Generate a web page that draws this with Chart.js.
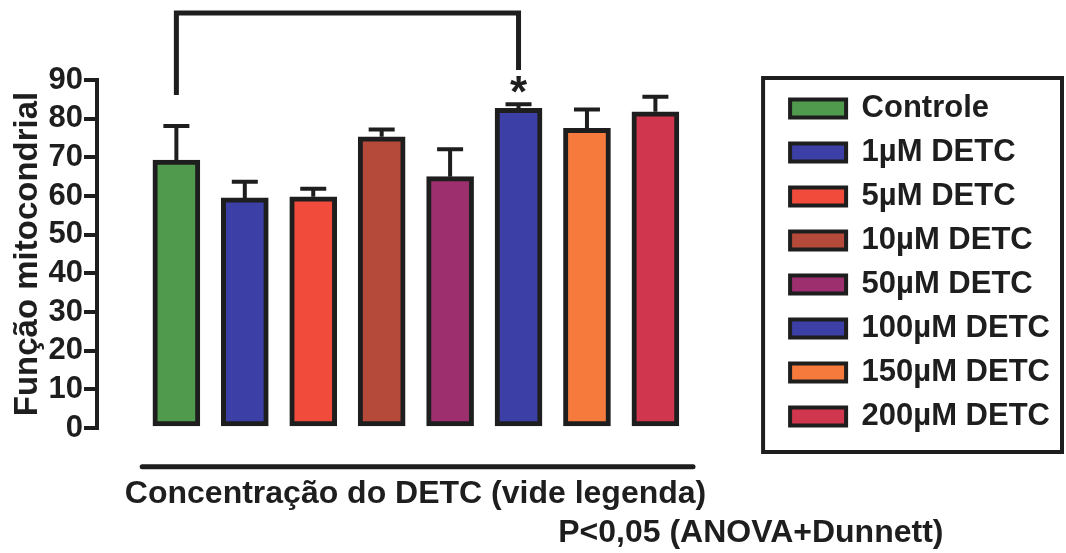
<!DOCTYPE html>
<html>
<head>
<meta charset="utf-8">
<script src="https://cdn.jsdelivr.net/npm/chart.js@4.4.1/dist/chart.umd.min.js"></script>
<style>
  html, body { margin:0; padding:0; background:#fff; }
  #wrap { width:1066px; height:553px; }
</style>
</head>
<body>
<div id="wrap"><canvas id="c" width="1066" height="553"></canvas></div>
<script>
// ---------- DADOS ----------
const groups = ["Controle","1µM DETC","5µM DETC","10µM DETC","50µM DETC","100µM DETC","150µM DETC","200µM DETC"];
const means  = [69.3, 59.5, 59.8, 75.3, 65.0, 82.7, 77.5, 81.8];
const errUp  = [8.8, 4.2, 2.1, 1.9, 7.1, 1.0, 4.9, 3.9];
const colors = ["#4f9a4c","#3b3fa6","#f04b3b","#b5493a","#9e2f6e","#3b3fa6","#f57a3c","#d0364e"];
const yTicks = [0,10,20,30,40,50,60,70,80,90];

// comparação significativa: Controle x 100µM
const sigPair   = [0, 5];
const sigLevels = [86.1, 107.3, 92.6];   // perna esq., topo, perna dir.
const sigStarAt = 83.0;
const yTitle = "Função mitocondrial";
const xTitle = "Concentração do DETC (vide legenda)";
const note   = "P<0,05 (ANOVA+Dunnett)";

// ---------- ESTILO ----------
const INK = "#1e1e1e";
const FONT = "'Liberation Sans', Arial, sans-serif";
Chart.defaults.font.family = FONT;
Chart.defaults.color = INK;

// barras de erro, chave de significância, linha-base, nota e caixa da legenda
const extras = {
  id: "extras",
  afterDraw(chart){
    const { ctx, scales:{ x, y } } = chart;
    ctx.save();
    ctx.strokeStyle = INK;
    ctx.fillStyle = INK;

    // erro (só para cima)
    ctx.lineWidth = 4;
    means.forEach((m, i) => {
      const px = x.getPixelForValue(i);
      const y0 = y.getPixelForValue(m);
      const y1 = y.getPixelForValue(m + errUp[i]);
      ctx.beginPath();
      ctx.moveTo(px, y0); ctx.lineTo(px, y1);
      ctx.moveTo(px - 13, y1); ctx.lineTo(px + 13, y1);
      ctx.stroke();
    });

    // chave
    const xa = x.getPixelForValue(sigPair[0]), xb = x.getPixelForValue(sigPair[1]);
    ctx.lineWidth = 5;
    ctx.lineJoin = "miter";
    ctx.beginPath();
    ctx.moveTo(xa, y.getPixelForValue(sigLevels[0]));
    ctx.lineTo(xa, y.getPixelForValue(sigLevels[1]));
    ctx.lineTo(xb, y.getPixelForValue(sigLevels[1]));
    ctx.lineTo(xb, y.getPixelForValue(sigLevels[2]));
    ctx.stroke();
    ctx.font = `bold 44px ${FONT}`;
    ctx.textAlign = "center";
    ctx.textBaseline = "alphabetic";
    ctx.fillText("*", xb, y.getPixelForValue(sigStarAt));

    // linha sob o eixo x
    ctx.lineWidth = 5;
    ctx.lineCap = "round";
    ctx.beginPath();
    ctx.moveTo(x.getPixelForValue(-0.5), y.getPixelForValue(-10));
    ctx.lineTo(x.getPixelForValue(7.55), y.getPixelForValue(-10));
    ctx.stroke();

    // nota estatística
    ctx.font = `bold 32px ${FONT}`;
    ctx.textAlign = "left";
    ctx.textBaseline = "middle";
    ctx.fillText(note, x.getPixelForValue(5.58), y.getPixelForValue(-27.2));

    // moldura da legenda
    const lg = chart.legend;
    ctx.lineWidth = 4;
    ctx.lineCap = "butt";
    ctx.strokeRect(lg.left - 14, lg.top - 2, chart.width - 4 - (lg.left - 14), 374);
    ctx.restore();
  }
};

new Chart(document.getElementById("c"), {
  type: "bar",
  data: {
    datasets: [{
      data: means.map((v, i) => ({ x: i, y: v })),
      backgroundColor: colors,
      borderColor: INK,
      borderWidth: 5,
      borderSkipped: false,
      barThickness: 47
    }]
  },
  options: {
    responsive: false,
    animation: false,
    devicePixelRatio: 1,
    layout: { padding: { top: 80, right: 6, bottom: 0, left: 0 } },
    scales: {
      x: {
        type: "linear", min: -1.16, max: 8.15, offset: false,
        grid: { display: false, drawTicks: false, offset: false },
        border: { display: false },
        ticks: { display: false },
        title: { display: true, text: xTitle, color: INK,
                 font: { size: 32, weight: "bold" }, padding: { top: 0, bottom: 40 } },
        afterFit: s => { s.height = 125; }
      },
      y: {
        min: 0, max: 90,
        afterBuildTicks: s => { s.ticks = yTicks.map(v => ({ value: v })); },
        ticks: { color: INK, padding: 1, autoSkip: false, font: { size: 31, weight: "bold" } },
        grid: { drawOnChartArea: false, drawTicks: true, tickLength: 13, lineWidth: 4, color: INK },
        border: { width: 4, color: INK },
        title: { display: true, text: yTitle, color: INK,
                 font: { size: 33, weight: "bold" }, padding: { top: 8, bottom: 0 } },
        afterFit: s => { s.width = 97; }
      },
      // espaço entre o gráfico e a legenda
      gap: {
        type: "linear", position: "right",
        grid: { display: false, drawTicks: false },
        border: { display: false },
        ticks: { display: false },
        afterFit: s => { s.width = 43; }
      }
    },
    plugins: {
      tooltip: { enabled: false },
      title: { display: false },
      legend: {
        position: "right",
        align: "start",
        maxWidth: 300,
        onClick: null,
        labels: {
          boxWidth: 56, boxHeight: 18, padding: 13, color: INK,
          font: { size: 31, weight: "bold" },
          generateLabels: () => groups.map((g, i) => ({
            text: g, fillStyle: colors[i], strokeStyle: INK, lineWidth: 4,
            hidden: false, fontColor: INK, datasetIndex: 0, index: i
          }))
        }
      }
    }
  },
  plugins: [extras]
});
</script>
</body>
</html>
